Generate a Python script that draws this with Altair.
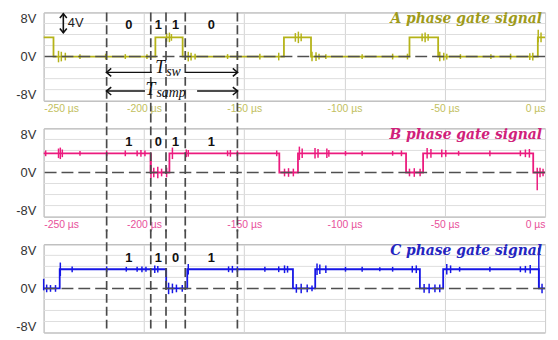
import bisect
import altair as alt
import pandas as pd

# ---------------- data ----------------
x_ticks = [-250, -200, -150, -100, -50, 0]
y_ticks = [8, 0, -8]
grid_levels = [-6.9, -4.6, -2.3, 2.3, 4.6, 6.9]
marker_times = [-218.6, -196.6, -189.0, -179.4, -153.4]

# gate signal step edges (µs) and levels (V)
a_t = [-250, -245.1, -194.3, -180.7, -130.2, -116.7, -67.6, -53.3, -3.6, 0]
a_v = [4, 0, 4, 0, 4, 0, 4, 0, 4, 4]
b_t = [-250, -196.7, -187.3, -132.5, -123.2, -69.3, -60.8, -5.9, 0]
b_v = [4, 0, 4, 0, 4, 0, 4, 0, 0]
c_t = [-250, -242.0, -188.9, -178.4, -125.7, -114.6, -62.4, -50.8, -3.1, 0]
c_v = [0, 4, 0, 4, 0, 4, 0, 4, 0, 0]

# switching-noise spikes: time (µs) and half amplitude (V)
a_sp_t = [-242.6, -241.2, -239.2, -231.9, -219.1, -209.3, -198.5, -188.7, -187.3, -186.3,
          -177.9, -176.5, -174.5, -158.3, -153.4, -142.2, -132.8, -124.5, -123.0, -121.6,
          -116.2, -114.2, -112.7, -109.3, -91.2, -76.0, -68.6, -61.3, -59.8, -58.3,
          -52.5, -50.5, -49.0, -42.2, -27.0, -17.2, -7.6, -6.1, -2.0]
a_sp_a = [1.2, 1.0, 0.8, 0.5, 0.6, 0.5, 0.5, 0.9, 1.0, 0.7,
          1.0, 0.8, 0.6, 0.5, 0.7, 0.6, 0.8, 0.9, 1.2, 0.8,
          1.0, 0.9, 0.6, 0.5, 0.5, 0.6, 0.6, 0.8, 1.0, 0.7,
          1.0, 0.8, 0.6, 0.5, 0.5, 0.6, 0.7, 0.8, 1.0]
b_sp_t = [-249.0, -242.6, -241.7, -240.7, -231.9, -218.6, -209.3, -203.4, -201.5, -199.5,
          -195.1, -193.1, -191.2, -188.7, -185.8, -178.9, -177.9, -158.3, -156.9, -153.4,
          -133.8, -129.9, -127.9, -125.5, -122.5, -121.1, -114.7, -113.2, -108.8, -107.8,
          -99.5, -91.2, -76.0, -71.6, -67.6, -65.2, -62.3, -58.8, -56.9, -51.5,
          -49.5, -43.1, -27.5, -12.3, -9.8, -7.8, -2.5, -1.0]
b_sp_a = [0.6, 1.0, 1.2, 0.8, 0.5, 0.6, 0.6, 0.6, 0.7, 0.6,
          1.0, 1.2, 0.8, 1.0, 1.2, 0.8, 0.7, 0.6, 0.7, 0.6,
          0.6, 0.8, 0.9, 0.8, 1.4, 1.0, 1.1, 0.9, 1.0, 0.7,
          0.5, 0.5, 0.5, 0.6, 0.8, 0.9, 0.8, 1.1, 0.9, 0.8,
          0.7, 0.5, 0.6, 0.6, 0.8, 0.9, 1.0, 0.8]
c_sp_t = [-248.5, -246.6, -244.1, -241.7, -235.8, -218.6, -208.8, -203.4, -201.0, -199.0,
          -194.6, -193.1, -187.7, -185.8, -183.8, -180.9, -177.9, -157.8, -155.9, -153.4,
          -139.7, -132.8, -129.9, -128.4, -124.0, -121.6, -118.6, -116.2, -113.7, -112.3,
          -109.3, -99.5, -91.2, -82.4, -76.0, -66.2, -64.2, -60.3, -57.8, -54.9,
          -52.5, -49.0, -47.1, -42.6, -27.5, -12.3, -9.8, -7.4, -1.5]
c_sp_a = [0.8, 0.7, 0.7, 1.4, 0.6, 0.6, 0.5, 0.5, 0.6, 0.5,
          0.8, 0.7, 1.2, 1.0, 0.8, 0.7, 1.1, 0.6, 0.7, 0.6,
          0.5, 0.6, 0.8, 0.7, 0.9, 1.0, 0.8, 0.6, 1.2, 1.0,
          0.8, 0.5, 0.5, 0.4, 0.5, 0.7, 0.8, 0.9, 1.0, 0.8,
          0.8, 1.1, 0.8, 0.5, 0.5, 0.6, 0.7, 0.9, 1.0]

# large single spikes: time, low, high (V)
a_pk_t, a_pk_lo, a_pk_hi = [-3.4], [3.0], [5.6]
b_pk_t, b_pk_lo, b_pk_hi = [-3.9, -196.5], [-3.7, -1.2], [1.0, 4.0]
c_pk_t, c_pk_lo, c_pk_hi = [-250.0, -3.1], [-0.4, 0.0], [2.0, 8.5]

a_bits = ["0", "1", "1", "0"]
b_bits = ["1", "0", "1", "1"]
c_bits = ["1", "1", "0", "1"]

titles = ["A phase gate signal", "B phase gate signal", "C phase gate signal"]

# ---------------- styling ----------------
W, H = 506, 89
XS = alt.Scale(domain=[-250, 0], nice=False, zero=False)
YS = alt.Scale(domain=[-9.2, 9.2], nice=False, zero=False)
YAX = alt.Axis(values=y_ticks, labelExpr="datum.value + 'V'", grid=False, ticks=False,
               domain=False, labelFont="Liberation Sans", labelFontSize=13,
               labelColor="#333333", labelPadding=8, minExtent=35, maxExtent=35, title=None)
Y = alt.Y("v:Q", scale=YS, axis=YAX)


def make_x(label_color, show_labels):
    return alt.X("t:Q", scale=XS, title=None,
                 axis=alt.Axis(values=x_ticks, labelExpr="datum.value + ' µs'", grid=True,
                               gridColor="#d2d2d2", gridWidth=1, ticks=False, domain=False,
                               labels=show_labels, labelColor=label_color,
                               labelFont="Liberation Sans", labelFontSize=10.5,
                               labelPadding=3, labelFlush=True, title=None))


def level_at(ts, tt, vv):
    i = bisect.bisect_right(tt, ts) - 1
    return vv[max(0, min(i, len(vv) - 1))]


def panel(tt, vv, sp_t, sp_a, pk_t, pk_lo, pk_hi, bits, bit_v, title, color, title_color,
          label_color, show_labels, r_top, r_bot, extra=None):
    X = make_x(label_color, show_labels)
    grid = alt.Chart(pd.DataFrame({"v": grid_levels})).mark_rule(
        color="#dedede", strokeWidth=1).encode(y=Y)
    zero = alt.Chart(pd.DataFrame({"v": [0]})).mark_rule(
        color="#505050", strokeDash=[12, 5], strokeWidth=1.5).encode(y=Y)
    trace = alt.Chart(pd.DataFrame({"t": tt, "v": vv})).mark_line(
        interpolate="step-after", color=color, strokeWidth=1.8).encode(x=X, y=Y)
    rows = []
    for ts, a in zip(sp_t, sp_a):
        lv = level_at(ts, tt, vv)
        rows.append({"t": ts, "v": lv - a, "v2": lv + a})
    for ts, lo, hi in zip(pk_t, pk_lo, pk_hi):
        rows.append({"t": ts, "v": lo, "v2": hi})
    spikes = alt.Chart(pd.DataFrame(rows)).mark_rule(color=color, strokeWidth=1.5).encode(
        x=X, y=Y, y2="v2:Q")
    markers = alt.Chart(pd.DataFrame({"t": marker_times})).mark_rule(
        color="#4a4a4a", strokeDash=[9, 4], strokeWidth=1.7).encode(
        x=X, y=alt.value(r_top), y2=alt.value(r_bot))
    mids = [(marker_times[i] + marker_times[i + 1]) / 2 for i in range(4)]
    bit_txt = alt.Chart(pd.DataFrame({"t": mids, "v": [bit_v] * 4, "b": bits})).mark_text(
        font="Liberation Sans", fontWeight="bold", fontSize=13, color="#111111").encode(
        x=X, y=Y, text="b:N")
    ttl = alt.Chart(pd.DataFrame({"t": [0], "v": [7.9], "s": [title]})).mark_text(
        font="DejaVu Serif", fontWeight="bold", fontStyle="italic", fontSize=14,
        color=title_color, align="right", dx=-3).encode(x=X, y=Y, text="s:N")
    layers = [grid, trace, spikes, zero, markers, bit_txt, ttl]
    if extra is not None:
        layers += extra(X)
    return alt.layer(*layers).properties(width=W, height=H)


# annotations of panel A
tsw_seg_t = [-218.6, -196.1, -179.4, -153.4]
tsamp_seg_t = [-218.6, -199.5, -173.5, -153.4]
tsw_v, tsamp_v = -3.3, -7.2
arrow4_t, arrow4_lo, arrow4_hi = -240.2, 4.9, 9.0


def extra_a(X):
    out = []
    seg = pd.DataFrame({
        "t": [tsw_seg_t[0], tsw_seg_t[2], tsamp_seg_t[0], tsamp_seg_t[2]],
        "t2": [tsw_seg_t[1], tsw_seg_t[3], tsamp_seg_t[1], tsamp_seg_t[3]],
        "v": [tsw_v, tsw_v, tsamp_v, tsamp_v]})
    out.append(alt.Chart(seg).mark_rule(color="#111111", strokeWidth=1.5).encode(
        x=X, x2="t2:Q", y=Y))
    left = pd.DataFrame({"t": [tsw_seg_t[0] + 1.1, tsamp_seg_t[0] + 1.1], "v": [tsw_v, tsamp_v]})
    right = pd.DataFrame({"t": [tsw_seg_t[3] - 1.1, tsamp_seg_t[3] - 1.1], "v": [tsw_v, tsamp_v]})
    out.append(alt.Chart(left).mark_point(shape="M0.6,-1L-0.6,0L0.6,1", size=64, filled=False,
                                          color="#111111", strokeWidth=1.5, opacity=1).encode(x=X, y=Y))
    out.append(alt.Chart(right).mark_point(shape="M-0.6,-1L0.6,0L-0.6,1", size=64, filled=False,
                                           color="#111111", strokeWidth=1.5, opacity=1).encode(x=X, y=Y))
    # T_sw and T_samp labels
    big = pd.DataFrame({"t": [-191.9, -196.8], "v": [-3.5, -8.0], "s": ["T", "T"]})
    sub = pd.DataFrame({"t": [-188.9, -193.8], "v": [-4.1, -8.5], "s": ["sw", "samp"]})
    out.append(alt.Chart(big).mark_text(font="Liberation Serif", fontStyle="italic", fontSize=18,
                                        color="#111111", baseline="alphabetic").encode(
        x=X, y=Y, text="s:N"))
    out.append(alt.Chart(sub).mark_text(font="Liberation Serif", fontStyle="italic", fontSize=14,
                                        color="#111111", baseline="alphabetic", align="left").encode(
        x=X, y=Y, text="s:N"))
    # 4V double arrow
    out.append(alt.Chart(pd.DataFrame({"t": [arrow4_t], "v": [arrow4_lo], "v2": [arrow4_hi]})).mark_rule(
        color="#111111", strokeWidth=1.6).encode(x=X, y=Y, y2="v2:Q"))
    out.append(alt.Chart(pd.DataFrame({"t": [arrow4_t], "v": [arrow4_hi - 0.5]})).mark_point(
        shape="M-1,0.6L0,-0.6L1,0.6", size=49, filled=False, color="#111111",
        strokeWidth=1.6, opacity=1).encode(x=X, y=Y))
    out.append(alt.Chart(pd.DataFrame({"t": [arrow4_t], "v": [arrow4_lo + 0.5]})).mark_point(
        shape="M-1,-0.6L0,0.6L1,-0.6", size=49, filled=False, color="#111111",
        strokeWidth=1.6, opacity=1).encode(x=X, y=Y))
    out.append(alt.Chart(pd.DataFrame({"t": [-238.0], "v": [6.9], "s": ["4V"]})).mark_text(
        font="Liberation Sans", fontSize=13, color="#222222", align="left").encode(
        x=X, y=Y, text="s:N"))
    return out


p1 = panel(a_t, a_v, a_sp_t, a_sp_a, a_pk_t, a_pk_lo, a_pk_hi, a_bits, 6.6, titles[0],
           "#b5b318", "#9e9a1a", "#c2c060", True, 0, H + 15, extra_a)
p2 = panel(b_t, b_v, b_sp_t, b_sp_a, b_pk_t, b_pk_lo, b_pk_hi, b_bits, 6.3, titles[1],
           "#ec1a7e", "#d0207a", "#e8509a", True, -15, H + 15)
p3 = panel(c_t, c_v, c_sp_t, c_sp_a, c_pk_t, c_pk_lo, c_pk_hi, c_bits, 6.3, titles[2],
           "#1616e6", "#2424c0", "#6060e0", False, -15, H)

chart = alt.vconcat(p1, p2, p3, spacing=28, bounds="flush").properties(
    padding={"left": 0, "right": 0, "top": 0, "bottom": 0}
).configure_view(stroke="#a0a0a0", strokeWidth=1)

chart.save("out.html", embed_options={"renderer": "svg", "actions": False})
